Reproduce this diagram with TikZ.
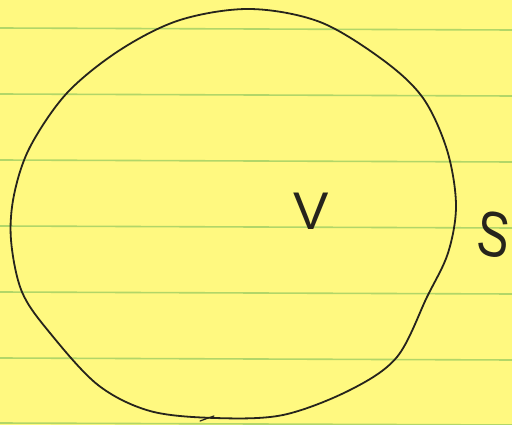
\documentclass[tikz,border=0pt]{standalone}
\usepackage{fontspec}
\setmainfont{Liberation Sans}
\definecolor{paper}{RGB}{255,249,128}
\definecolor{rule}{RGB}{178,214,104}
\definecolor{ink}{RGB}{38,36,28}
\begin{document}
\begin{tikzpicture}[x=1pt,y=-1pt,
  ruleline/.style={draw=rule,line width=1.6pt},
  inkline/.style={draw=ink,line width=1.8pt,line join=round,line cap=round},
  handtext/.style={text=ink,inner sep=0pt,font=\fontsize{53}{53}\selectfont}]
\fill[paper] (0,0) rectangle (512,425);
\useasboundingbox (0,0) rectangle (512,425);
\foreach \y in {28,94,160,226,292,358,423}
  \draw[ruleline] (0,\y) -- (512,\y+2);
\draw[inkline] plot[smooth cycle,tension=0.55] coordinates {
 (250,9) (320,22) (383,60) (423,98) (447,150) (456,205) (448,253)
 (427,297) (397,357) (350,390) (283,415) (215,418) (150,411) (98,385)
 (50,333) (22,292) (11,240) (14,195) (30,147) (67,93) (120,50) (180,20)};
\draw[inkline,line width=1.2pt] (200,421) -- (214,416);
\node[handtext] (V) at (311,211) {V};
\node[handtext,font=\fontsize{64}{64}\selectfont,xscale=0.75,rotate=-8] (S) at (494,235) {S};
\end{tikzpicture}
\end{document}
